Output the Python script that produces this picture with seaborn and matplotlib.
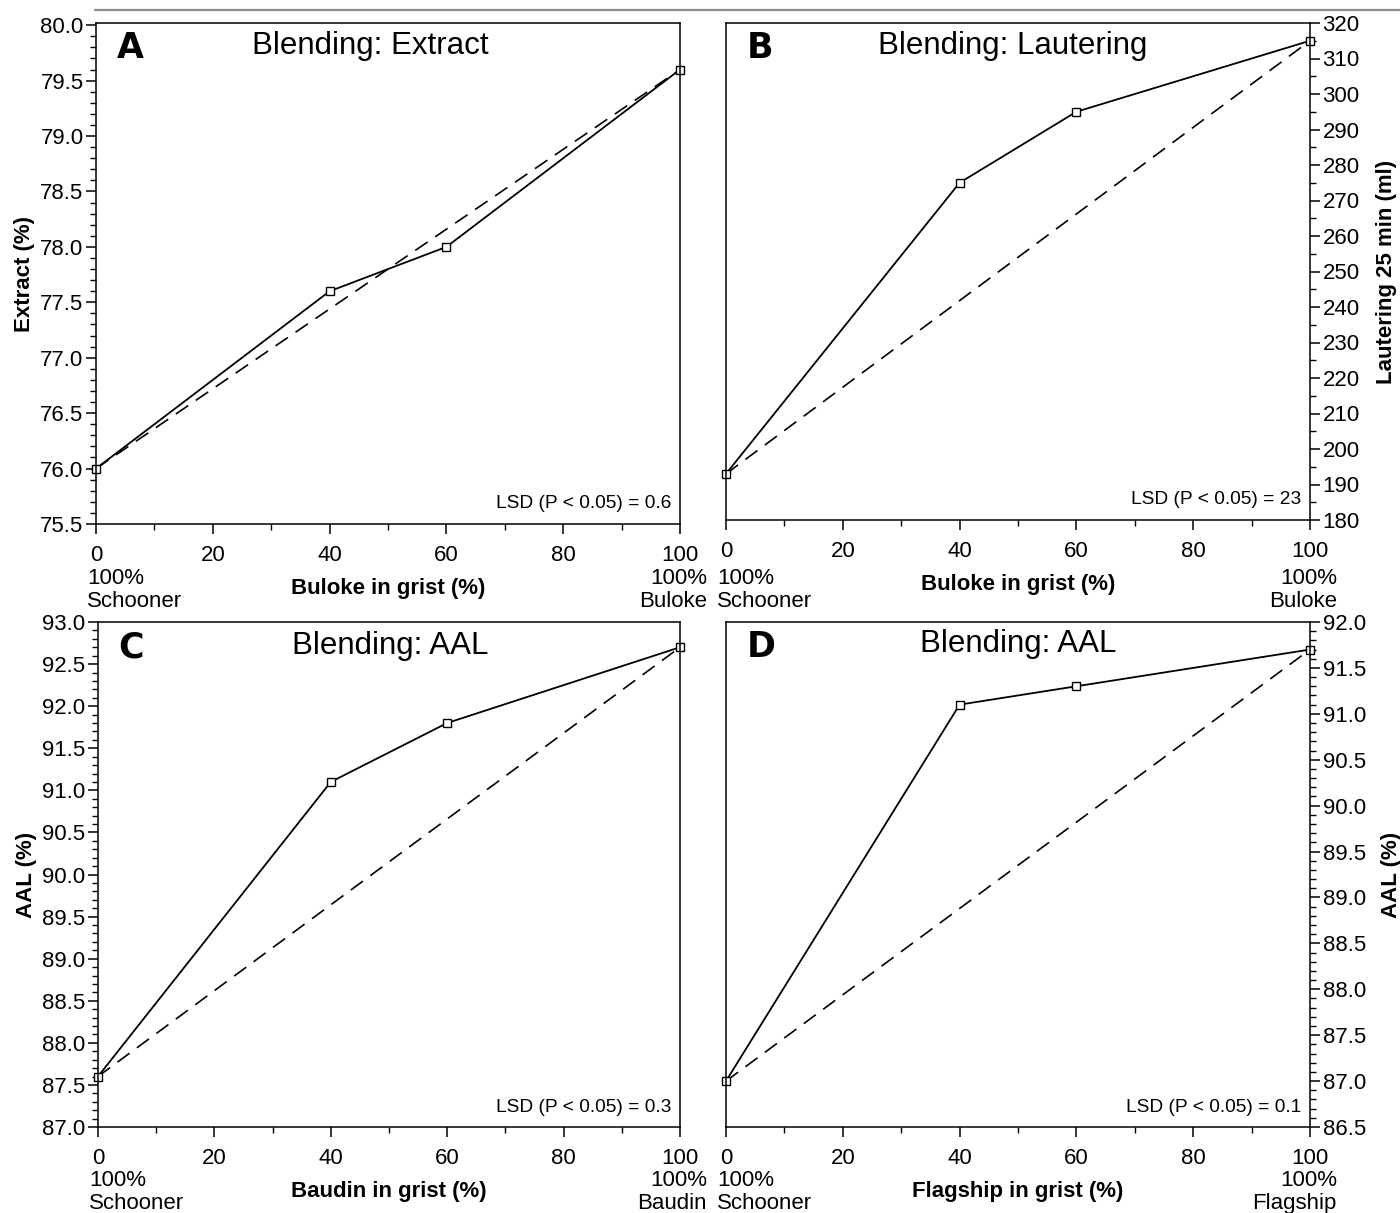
import numpy as np
import pandas as pd
import seaborn as sns
import matplotlib
matplotlib.use("Agg")
import matplotlib.pyplot as plt
from matplotlib.ticker import MultipleLocator, FormatStrFormatter
from matplotlib.lines import Line2D
from matplotlib import font_manager

# ---------------- data ----------------
grist_pct = [0, 40, 60, 100]

extract_vals = [76.0, 77.6, 78.0, 79.6]          # panel A
lautering_vals = [193, 275, 295, 315]            # panel B
aal_baudin_vals = [87.6, 91.1, 91.8, 92.7]       # panel C
aal_flagship_vals = [87.0, 91.1, 91.3, 91.7]     # panel D

panel_letters = ["A", "B", "C", "D"]
panel_titles = ["Blending: Extract", "Blending: Lautering", "Blending: AAL", "Blending: AAL"]
x_labels = ["Buloke in grist (%)", "Buloke in grist (%)", "Baudin in grist (%)", "Flagship in grist (%)"]
y_labels = ["Extract (%)", "Lautering 25 min (ml)", "AAL (%)", "AAL (%)"]
end_left = ["100%\nSchooner"] * 4
end_right = ["100%\nBuloke", "100%\nBuloke", "100%\nBaudin", "100%\nFlagship"]
lsd_texts = ["LSD (P < 0.05) = 0.6", "LSD (P < 0.05) = 23",
             "LSD (P < 0.05) = 0.3", "LSD (P < 0.05) = 0.1"]
y_limits = [(75.5, 80.02), (180, 320), (87.0, 93.0), (86.5, 92.0)]
y_major = [0.5, 10, 0.5, 0.5]
y_minor = [0.1, 5, 0.1, 0.1]
y_fmt = ["%.1f", "%d", "%.1f", "%.1f"]
right_axis = [False, True, False, True]

# ---------------- style ----------------
sns.set_style("ticks")
names = {f.name for f in font_manager.fontManager.ttflist}
fam = ["Liberation Sans Narrow"] if "Liberation Sans Narrow" in names else []
fam += ["Liberation Sans", "DejaVu Sans"]
plt.rcParams["font.family"] = fam
plt.rcParams["axes.linewidth"] = 1.1
plt.rcParams["text.color"] = "black"
plt.rcParams["axes.labelcolor"] = "black"
plt.rcParams["xtick.color"] = "black"
plt.rcParams["ytick.color"] = "black"

W, H = 1400, 1213
fig = plt.figure(figsize=(W / 100, H / 100), dpi=100)

def rect(l, r, t, b):
    return [l / W, 1 - b / H, (r - l) / W, (b - t) / H]

positions = [rect(96, 680, 23, 524), rect(726, 1310, 23, 520),
             rect(98, 680, 622, 1127), rect(726, 1310, 622, 1127)]
title_x = [370, 1013, 390, 1018]
title_y = [46, 46, 646, 644]
end_offset_px = [44, 48, 43, 43]
ylabel_pad = [4, 12, 4, 11]

series = [extract_vals, lautering_vals, aal_baudin_vals, aal_flagship_vals]

for i in range(4):
    ax = fig.add_axes(positions[i])
    ax_w = positions[i][2] * W
    ax_h = positions[i][3] * H
    ax_top = (1 - positions[i][1] - positions[i][3]) * H
    df = pd.DataFrame({"grist": grist_pct, "value": series[i]})
    df_lin = df.iloc[[0, -1]]
    sns.lineplot(data=df_lin, x="grist", y="value", ax=ax, color="black",
                 linewidth=1.2, linestyle="--", clip_on=False)
    ax.lines[-1].set_dashes([9, 5.5])
    sns.lineplot(data=df, x="grist", y="value", ax=ax, color="black",
                 linewidth=1.3, marker="s", markersize=5.5,
                 markerfacecolor="white", markeredgecolor="black",
                 markeredgewidth=1.0, clip_on=False)
    ax.set_xlim(0, 100)
    ax.set_ylim(*y_limits[i])
    ax.xaxis.set_major_locator(MultipleLocator(20))
    ax.xaxis.set_minor_locator(MultipleLocator(10))
    ax.yaxis.set_major_locator(MultipleLocator(y_major[i]))
    ax.yaxis.set_minor_locator(MultipleLocator(y_minor[i]))
    ax.yaxis.set_major_formatter(FormatStrFormatter(y_fmt[i]))
    ax.tick_params(which="major", direction="out", length=7, width=1.1,
                   labelsize=16, pad=2)
    ax.tick_params(which="minor", direction="out", length=4, width=1.0)
    ax.tick_params(axis="x", which="major", pad=8)
    for s in ax.spines.values():
        s.set_visible(True)
        s.set_linewidth(1.1)
        s.set_color("black")
    ax.set_xlabel(x_labels[i], fontsize=16, fontweight="bold", labelpad=9)
    if right_axis[i]:
        ax.yaxis.tick_right()
        ax.yaxis.set_label_position("right")
        ax.set_ylabel(y_labels[i], fontsize=16, fontweight="bold",
                      labelpad=ylabel_pad[i], rotation=90)
    else:
        ax.set_ylabel(y_labels[i], fontsize=16, fontweight="bold",
                      labelpad=ylabel_pad[i])
    # end labels below the axis
    y_end = -end_offset_px[i] / ax_h
    ax.text(-9 / ax_w, y_end, end_left[i], transform=ax.transAxes, ha="left",
            va="top", fontsize=16, linespacing=1.1, multialignment="left")
    ax.text(1 + 27 / ax_w, y_end, end_right[i], transform=ax.transAxes, ha="right",
            va="top", fontsize=16, linespacing=1.1, multialignment="right")
    # panel letter and title
    ax.text(0.035, 0.95, panel_letters[i], transform=ax.transAxes, ha="left",
            va="center", fontsize=25, fontweight="bold",
            family=["DejaVu Sans"])
    ax.text((title_x[i] - positions[i][0] * W) / ax_w,
            1 - (title_y[i] - ax_top) / ax_h,
            panel_titles[i], transform=ax.transAxes, ha="center", va="center",
            fontsize=22.5)
    ax.text(1 - 9 / ax_w, 20 / ax_h, lsd_texts[i], transform=ax.transAxes, ha="right",
            va="center", fontsize=13.8)

fig.add_artist(Line2D([95 / W, 1.0], [1 - 10 / H, 1 - 10 / H],
                      transform=fig.transFigure, color="#8c8c8c", linewidth=1.6))

fig.savefig("out.png", dpi=100, facecolor="white")
